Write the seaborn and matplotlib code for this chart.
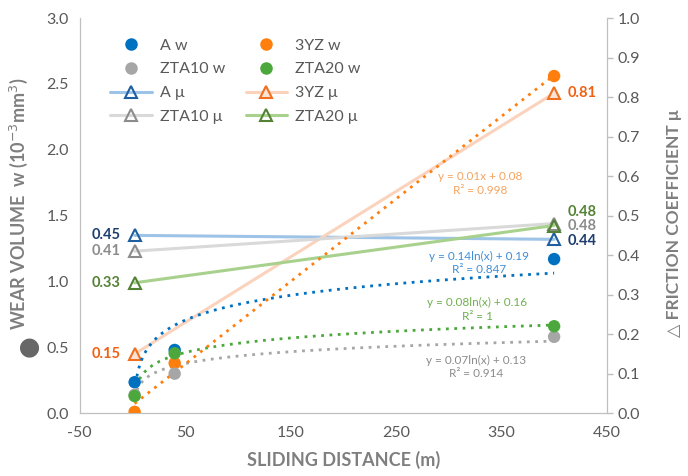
import numpy as np
import pandas as pd
import matplotlib
matplotlib.use("Agg")
import matplotlib.pyplot as plt
import seaborn as sns

# sliding distance (m)
dist = [2, 40, 400]
dist_mu = [2, 400]

# wear volume w (10^-3 mm^3)
wear_A = [0.235, 0.48, 1.17]
wear_3YZ = [0.01, 0.38, 2.56]
wear_ZTA10 = [0.14, 0.30, 0.58]
wear_ZTA20 = [0.13, 0.455, 0.66]

# friction coefficient mu
mu_A = [0.45, 0.44]
mu_3YZ = [0.15, 0.81]
mu_ZTA10 = [0.41, 0.48]
mu_ZTA20 = [0.33, 0.475]

mu_left_labels = ["0.45", "0.15", "0.41", "0.33"]
mu_right_labels = ["0.44", "0.81", "0.48", "0.48"]

sns.set_style("white")
plt.rcParams['font.family'] = ['Lato', 'DejaVu Sans']
plt.rcParams['axes.unicode_minus'] = False

grey = '#7f7f7f'
c_A, c_3YZ, c_Z10, c_Z20 = '#0070C0', '#FF7F0E', '#A6A6A6', '#4CA83C'
l_A, l_3YZ, l_Z10, l_Z20 = '#9DC3E6', '#FBD3BD', '#D9D9D9', '#A9D18E'
e_A, e_3YZ, e_Z10, e_Z20 = '#1F5F9F', '#F07020', '#8C8C8C', '#548235'
t_A, t_3YZ, t_Z10, t_Z20 = '#1F3E6E', '#F06010', '#8C8C8C', '#548235'

fig, ax = plt.subplots(figsize=(6.88, 4.76), dpi=100)
ax2 = ax.twinx()
fig.subplots_adjust(left=0.116, right=0.882, bottom=0.132, top=0.962)

# trend lines (Excel style): log fits and one linear fit
xs = np.linspace(dist[0], dist[-1], 300)
for w, c in [(wear_A, c_A), (wear_ZTA20, c_Z20), (wear_ZTA10, c_Z10)]:
    b, a = np.polyfit(np.log(dist), w, 1)
    ax.plot(xs, b * np.log(xs) + a, ls=(0, (1, 2)), lw=2, color=c, zorder=2)
k, m = np.polyfit(dist, wear_3YZ, 1)
ax.plot(xs, k * xs + m, ls=(0, (1, 2)), lw=2, color=c_3YZ, zorder=2)

# friction coefficient lines
mu_sets = [("A μ", mu_A, l_A, e_A, 'none'), ("3YZ μ", mu_3YZ, l_3YZ, e_3YZ, '#FBE3D6'),
           ("ZTA10 μ", mu_ZTA10, l_Z10, e_Z10, 'none'), ("ZTA20 μ", mu_ZTA20, l_Z20, e_Z20, 'none')]
mu_handles = []
for name, mu, lc, ec, fc in mu_sets:
    df = pd.DataFrame({'d': dist_mu, 'mu': mu})
    sns.lineplot(data=df, x='d', y='mu', ax=ax2, color=lc, lw=2.2, marker='^', ms=9,
                 mfc=fc, mec=ec, mew=1.5, legend=False, zorder=3)
    mu_handles.append(plt.Line2D([], [], color=lc, lw=2.2, marker='^', ms=9,
                                 mfc=fc, mec=ec, mew=1.5, label=name))

# wear points
w_sets = [("A w", wear_A, c_A), ("3YZ w", wear_3YZ, c_3YZ),
          ("ZTA10 w", wear_ZTA10, c_Z10), ("ZTA20 w", wear_ZTA20, c_Z20)]
w_handles = []
for name, w, c in w_sets:
    df = pd.DataFrame({'d': dist, 'w': w})
    sns.scatterplot(data=df, x='d', y='w', ax=ax, color=c, s=80, edgecolor='none',
                    legend=False, zorder=4)
    w_handles.append(plt.Line2D([], [], ls='none', marker='o', ms=8, color=c, label=name))

ax.set_zorder(ax2.get_zorder() + 1)
ax.patch.set_visible(False)

ax.set_xlim(-50, 450)
ax.set_ylim(0, 3.0)
ax2.set_ylim(0, 1.0)
ax.set_xticks(np.arange(-50, 451, 100))
ax.set_yticks(np.arange(0, 3.01, 0.5))
ax2.set_yticks(np.arange(0, 1.01, 0.1))
ax.yaxis.set_major_formatter(matplotlib.ticker.FormatStrFormatter('%.1f'))
ax2.yaxis.set_major_formatter(matplotlib.ticker.FormatStrFormatter('%.1f'))

for a in (ax, ax2):
    for s in a.spines.values():
        s.set_color('#BFBFBF')
    a.spines['top'].set_visible(False)
    a.tick_params(labelsize=11.5, labelcolor='#595959', colors='#BFBFBF')
ax.tick_params(axis='y', length=0, pad=8)
ax.tick_params(axis='x', length=0, pad=9)
ax2.tick_params(axis='y', length=4, width=1)

ax.set_xlabel("SLIDING DISTANCE (m)", fontsize=13, fontweight='bold', color=grey, labelpad=8)
ax.set_ylabel("WEAR VOLUME  w (10$^{-3}$mm$^{3}$)", fontsize=13, fontweight='bold', color=grey)
ax.yaxis.set_label_coords(-0.095, 0.53)
ax.text(-0.098, 0.17, "●", transform=ax.transAxes, rotation=90, ha='center', va='center',
        fontsize=18, color='#666666', family=['DejaVu Sans'])
ax2.set_ylabel("△ FRICTION COEFFICIENT μ", fontsize=12.5, fontweight='bold', color=grey)
ax2.yaxis.set_label_coords(1.112, 0.48)

# value labels for friction coefficient
tcols = [t_A, t_3YZ, t_Z10, t_Z20]
mus = [mu_A, mu_3YZ, mu_ZTA10, mu_ZTA20]
right_lab_y = [mu_A[1] - 0.005, mu_3YZ[1], mu_ZTA10[1] - 0.005, mu_ZTA20[1] + 0.035]
for i in range(4):
    ax2.annotate(mu_left_labels[i], (dist_mu[0], mus[i][0]), xytext=(-10, 0),
                 textcoords='offset points', ha='right', va='center',
                 fontsize=10.5, fontweight='bold', color=tcols[i])
    ax2.annotate(mu_right_labels[i], (dist_mu[1], right_lab_y[i]), xytext=(10, 0),
                 textcoords='offset points', ha='left', va='center',
                 fontsize=10.5, fontweight='bold', color=tcols[i])

# trend line equations
eq = [("y = 0.01x + 0.08\nR² = 0.998", 330, 1.745, '#F4A460'),
      ("y = 0.14ln(x) + 0.19\nR² = 0.847", 329, 1.14, '#3F8FD8'),
      ("y = 0.08ln(x) + 0.16\nR² = 1", 327, 0.79, '#70B050'),
      ("y = 0.07ln(x) + 0.13\nR² = 0.914", 326, 0.35, '#8C8C8C')]
for txt, x, y, c in eq:
    ax.text(x, y, txt, ha='center', va='center', fontsize=8.5, color=c, linespacing=1.3)

handles = [w_handles[0], w_handles[2], mu_handles[0], mu_handles[2],
           w_handles[1], w_handles[3], mu_handles[1], mu_handles[3]]
leg = ax.legend(handles=handles, ncol=2, loc='upper left', bbox_to_anchor=(0.03, 0.985),
                frameon=False, fontsize=11.5, handlelength=2.6, columnspacing=1.3,
                labelspacing=0.6, handletextpad=0.5)
for t in leg.get_texts():
    t.set_color('#595959')

fig.savefig("out.png", dpi=100)
